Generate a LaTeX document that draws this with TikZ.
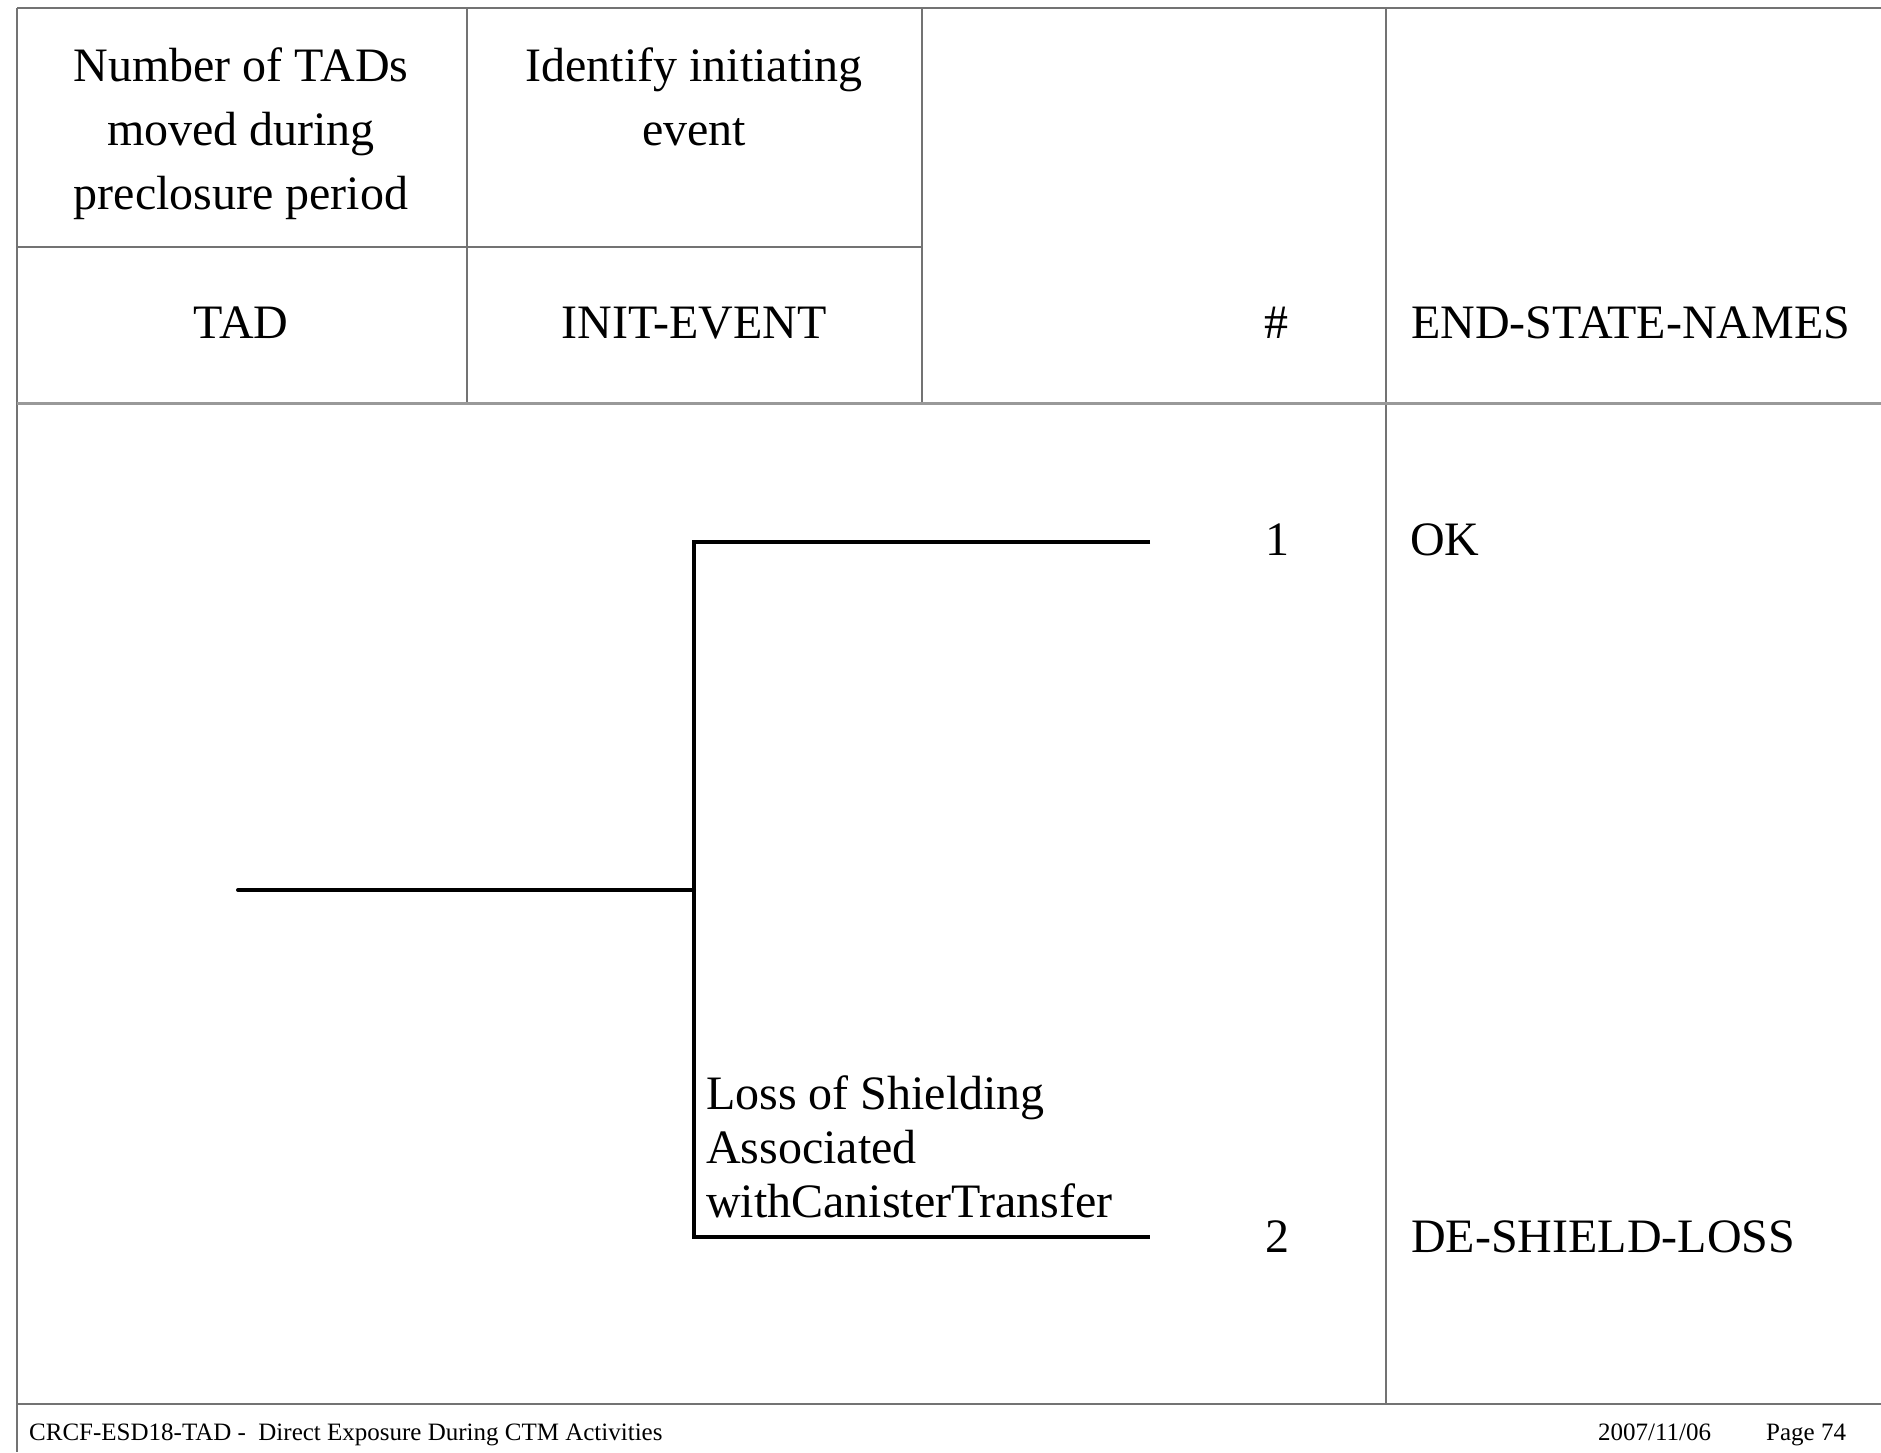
\documentclass[tikz,border=0pt]{standalone}
\usepackage{fontspec}
\setmainfont{Liberation Serif}
\usetikzlibrary{positioning, calc}

\begin{document}
\begin{tikzpicture}[x=1pt, y=-1pt,
    tablerule/.style={draw=black!55, line width=1.6pt},
    headrule/.style={draw=black!40, line width=3pt},
    branch/.style={line width=4pt, line join=miter},
    bigtext/.style={font=\fontsize{48}{64}\selectfont, inner sep=0pt},
    smalltext/.style={font=\fontsize{25}{30}\selectfont, inner sep=0pt}]
  \useasboundingbox (0,0) rectangle (1881,1452);
  \fill[white] (0,0) rectangle (1881,1452);

  % Table frame
  \draw[tablerule] (17,8) -- (1881,8);
  \draw[tablerule] (17,8) -- (17,1452);
  \draw[tablerule] (467,8) -- (467,403);
  \draw[tablerule] (922,8) -- (922,403);
  \draw[tablerule] (1386,8) -- (1386,1404);
  \draw[tablerule] (17,247) -- (922,247);
  \draw[headrule] (17,403) -- (1881,403);
  \draw[tablerule] (17,1404) -- (1881,1404);

  % Column titles
  \node[bigtext, align=center, anchor=north] (ttl-tad) at (241,47)
    {Number of TADs\\moved during\\preclosure period};
  \node[bigtext, align=center, anchor=north] (ttl-init) at (694,47)
    {Identify initiating\\event};

  % Column headings
  \node[bigtext, anchor=base] (hdr-tad) at (241,338) {TAD};
  \node[bigtext, anchor=base] (hdr-init) at (694,338) {INIT-EVENT};
  \node[bigtext, anchor=base] (hdr-num) at (1276,338) {\#};
  \node[bigtext, anchor=base west] (hdr-end) at (1411,338) {END-STATE-NAMES};

  % Event tree
  \coordinate (ie-start) at (238,890);
  \coordinate (ie-split) at (694,890);
  \coordinate (br-up) at (694,542);
  \coordinate (br-down) at (694,1237);
  \coordinate (br-end1) at (1150,542);
  \coordinate (br-end2) at (1150,1237);
  \draw[branch, line cap=round] (ie-start) -- (ie-split);
  \draw[branch] (br-end1) -- (br-up) -- (br-down) -- (br-end2);

  \node[bigtext, font=\fontsize{48}{54}\selectfont, align=left, anchor=north west]
    (ie-label) at (706,1075)
    {Loss of Shielding\\Associated\\withCanisterTransfer};

  % End states
  \node[bigtext, anchor=base] (num1) at (1277,555) {1};
  \node[bigtext, anchor=base west] (es1) at (1410,555) {OK};
  \node[bigtext, anchor=base] (num2) at (1277,1252) {2};
  \node[bigtext, anchor=base west] (es2) at (1411,1252) {DE-SHIELD-LOSS};

  % Footer
  \node[smalltext, anchor=base west] (foot-title) at (29,1440)
    {CRCF-ESD18-TAD -\ \ Direct Exposure During CTM Activities};
  \node[smalltext, anchor=base west] (foot-date) at (1598,1440) {2007/11/06};
  \node[smalltext, anchor=base west] (foot-page) at (1766,1440) {Page 74};
\end{tikzpicture}
\end{document}
